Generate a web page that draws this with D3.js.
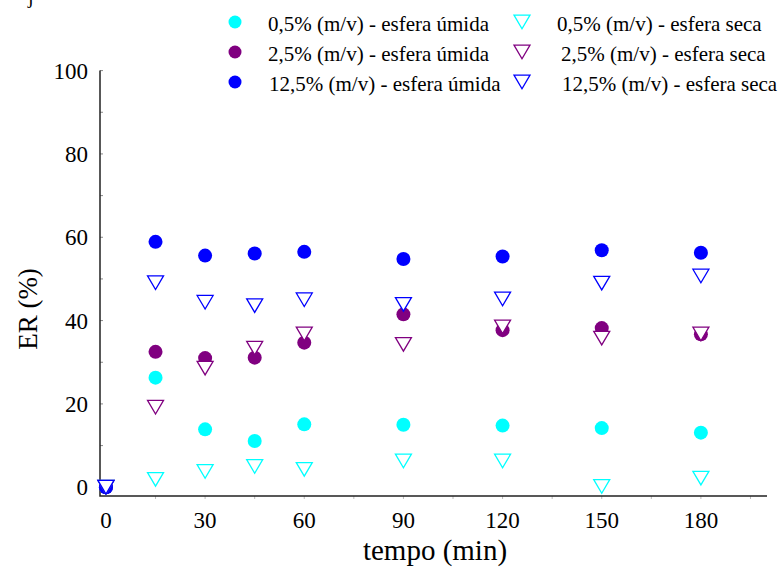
<!DOCTYPE html>
<html>
<head>
<meta charset="utf-8">
<script src="https://d3js.org/d3.v7.min.js"></script>
<style>
	body { margin: 0; background: #fff; }
</style>
</head>
<body>
<div class="chart"></div>
<script>
	// tempo (min) and ER (%) for each series
	var tempo = [0, 15, 30, 45, 60, 90, 120, 150, 180];
	var umida05 = [0, 26.3, 13.9, 11.1, 15.1, 15.0, 14.8, 14.2, 13.1];
	var umida25 = [0, 32.5, 31.0, 31.1, 34.7, 41.5, 37.7, 38.2, 36.7];
	var umida125 = [0, 58.9, 55.6, 56.1, 56.5, 54.8, 55.4, 56.9, 56.3];
	var seca05 = [0, 1.9, 3.8, 5.0, 4.3, 6.3, 6.3, 0.2, 2.2];
	var seca25 = [0, 19.2, 28.6, 33.4, 36.8, 34.3, 38.5, 35.8, 36.8];
	var seca125 = [0, 49.1, 44.4, 43.6, 45.0, 43.9, 45.2, 49.0, 50.7];
	var xTicks = [0, 30, 60, 90, 120, 150, 180];
	var yTicks = [0, 20, 40, 60, 80, 100];

	var series = [
		{name: "0,5% (m/v) - esfera úmida", values: umida05, color: "#00ffff", shape: "circle"},
		{name: "2,5% (m/v) - esfera úmida", values: umida25, color: "#800080", shape: "circle"},
		{name: "12,5% (m/v) - esfera úmida", values: umida125, color: "#0000ff", shape: "circle"},
		{name: "0,5% (m/v) - esfera seca", values: seca05, color: "#00ffff", shape: "tri"},
		{name: "2,5% (m/v) - esfera seca", values: seca25, color: "#800080", shape: "tri"},
		{name: "12,5% (m/v) - esfera seca", values: seca125, color: "#0000ff", shape: "tri"}
	];

	var w = 781, h = 570;
	var font = "'Liberation Serif', 'Times New Roman', serif";
	var svg = d3.select(".chart").append("svg")
		.attr("width", w)
		.attr("height", h)
		.attr("font-family", font);

	var x = d3.scaleLinear().domain([-1.8, 200]).range([100, 767]);
	var y = d3.scaleLinear().domain([-2.1, 100]).range([496, 70.6]);

	// triangle pointing down, centered on its box
	function tri(cx, cy) {
		var hw = 8, hh = 6.8;
		return "M" + (cx - hw) + "," + (cy - hh) + "L" + (cx + hw) + "," + (cy - hh) + "L" + cx + "," + (cy + hh) + "Z";
	}

	// cut off glyph at top left
	svg.append("text").attr("x", 28).attr("y", 3).style("font-family", font).style("font-size", "20px").text("j");

	// axis ticks
	svg.append("g").selectAll("line")
		.data(d3.range(0, 101, 10))
		.enter().append("line")
		.attr("x1", x(-1.8)).attr("x2", x(-1.8) + 3)
		.attr("y1", function(d) { return y(d); })
		.attr("y2", function(d) { return y(d); })
		.attr("stroke", "#888").attr("stroke-width", 1);
	svg.append("g").selectAll("line")
		.data(d3.range(15, 200, 15))
		.enter().append("line")
		.attr("x1", function(d) { return x(d); })
		.attr("x2", function(d) { return x(d); })
		.attr("y1", y(-2.1)).attr("y2", y(-2.1) + 3)
		.attr("stroke", "#bbb").attr("stroke-width", 1);

	// axis lines
	svg.append("path")
		.attr("d", "M" + x(-1.8) + "," + y(100) + "V" + y(-2.1) + "H" + x(200))
		.attr("fill", "none").attr("stroke", "#222").attr("stroke-width", 1.5);

	svg.append("g").selectAll("text")
		.data(yTicks)
		.enter().append("text")
		.attr("x", 88)
		.attr("y", function(d) { return y(d) + 8; })
		.attr("text-anchor", "end")
		.style("font-family", font)
		.style("font-size", "23px")
		.text(function(d) { return d; });

	svg.append("g").selectAll("text")
		.data(xTicks)
		.enter().append("text")
		.attr("x", function(d) { return x(d); })
		.attr("y", 528)
		.attr("text-anchor", "middle")
		.style("font-family", font)
		.style("font-size", "23px")
		.text(function(d) { return d; });

	svg.append("text")
		.attr("x", 435).attr("y", 560)
		.attr("text-anchor", "middle")
		.style("font-family", font)
		.style("font-size", "29px")
		.text("tempo (min)");

	svg.append("text")
		.attr("transform", "translate(37,309) rotate(-90)")
		.attr("text-anchor", "middle")
		.style("font-family", font)
		.style("font-size", "27px")
		.text("ER (%)");

	// markers: circles first, then open triangles on top
	series.forEach(function(s) {
		if (s.shape != "circle") return;
		svg.append("g").selectAll("circle")
			.data(s.values)
			.enter().append("circle")
			.attr("cx", function(d, i) { return x(tempo[i]); })
			.attr("cy", function(d) { return y(d); })
			.attr("r", 7)
			.attr("fill", s.color);
	});
	series.forEach(function(s) {
		if (s.shape != "tri") return;
		svg.append("g").selectAll("path")
			.data(s.values)
			.enter().append("path")
			.attr("d", function(d, i) { return tri(x(tempo[i]), y(d)); })
			.attr("fill", "#fff")
			.attr("stroke", s.color)
			.attr("stroke-width", 1.3);
	});

	// legend
	var rowsY = [22, 52, 82];
	var leg = svg.append("g");
	var textX = [[268, 268, 269], [557, 561, 562]];
	series.forEach(function(s, i) {
		var col = s.shape == "circle" ? 0 : 1;
		var ry = rowsY[i % 3];
		var mx = col == 0 ? 235 : 522;
		if (s.shape == "circle") {
			leg.append("circle").attr("cx", mx).attr("cy", ry).attr("r", 6.5).attr("fill", s.color);
		} else {
			leg.append("path").attr("d", tri(mx, ry)).attr("fill", "#fff")
				.attr("stroke", s.color).attr("stroke-width", 1.3);
		}
		leg.append("text")
			.attr("x", textX[col][i % 3])
			.attr("y", ry + 9)
			.style("font-family", font)
			.style("font-size", "21px")
			.text(s.name);
	});
</script>
</body>
</html>
